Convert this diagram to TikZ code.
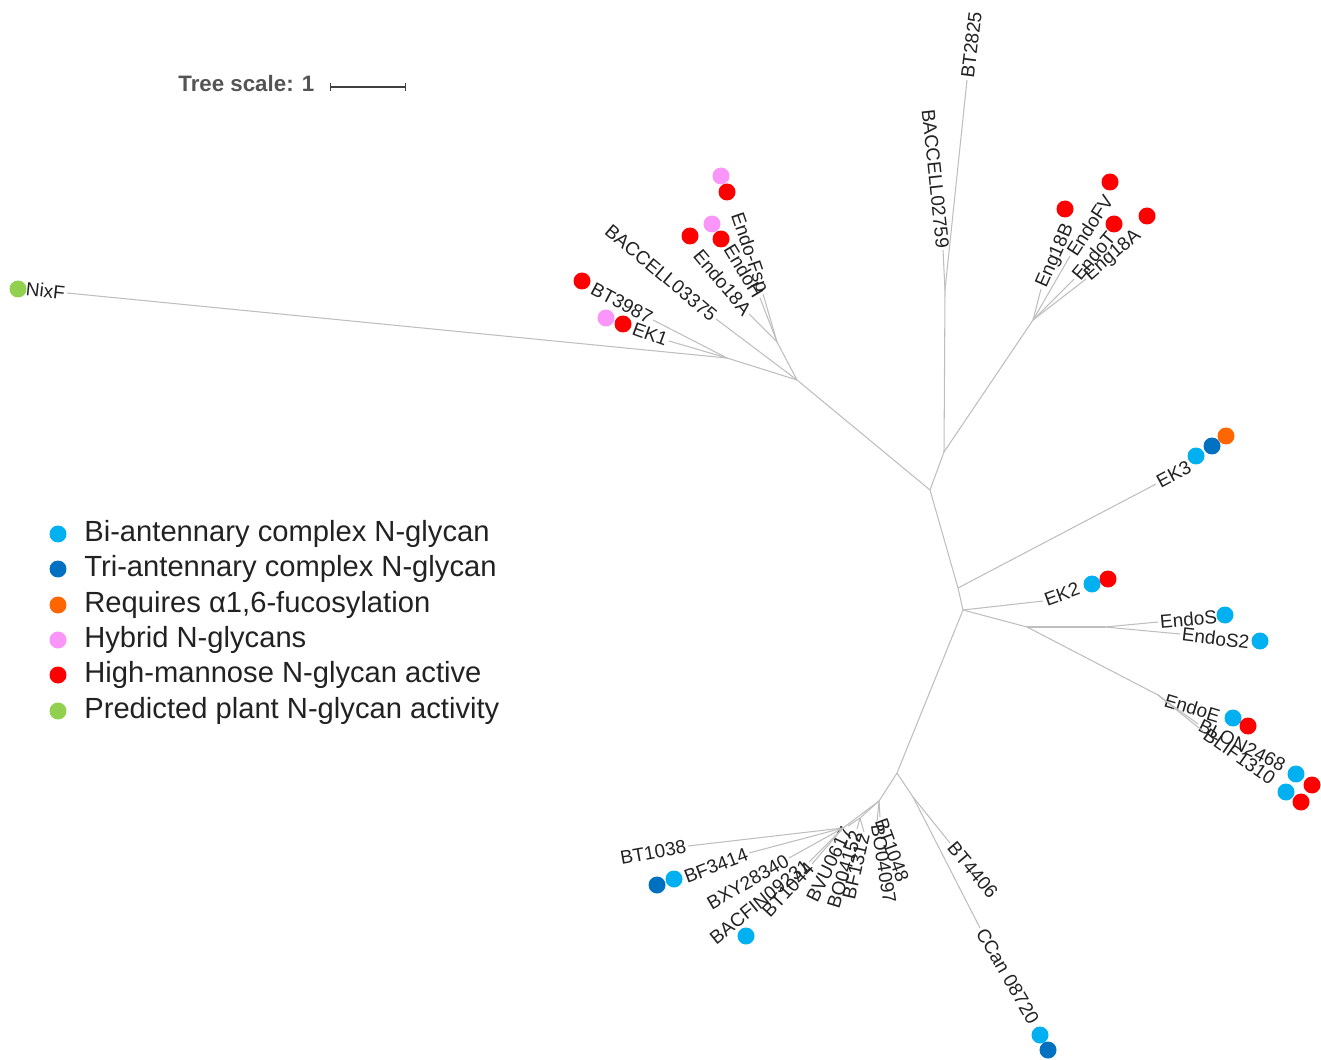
\documentclass[tikz,border=0pt]{standalone}
\usepackage{fontspec}
\setmainfont{Liberation Sans}
\usepackage{tikz}
\usetikzlibrary{arrows.meta}
\definecolor{bianten}{RGB}{0,176,240}
\definecolor{trianten}{RGB}{0,112,192}
\definecolor{fucose}{RGB}{255,102,0}
\definecolor{hybrid}{RGB}{250,150,250}
\definecolor{himan}{RGB}{255,0,0}
\definecolor{plant}{RGB}{146,208,80}
\definecolor{branchgray}{RGB}{190,190,190}
\definecolor{labelink}{RGB}{34,34,34}

\begin{document}
\begin{tikzpicture}[x=0.02cm, y=-0.02cm,
    branch/.style={branchgray, line width=0.6pt},
    leaf/.style={labelink, inner sep=1pt, font=\fontsize{10.8}{13}\selectfont},
    legtxt/.style={labelink, anchor=west, inner sep=0pt, font=\fontsize{16.6}{20}\selectfont},
    scaletxt/.style={black!67, anchor=west, inner sep=0pt, font=\fontsize{12.7}{15}\selectfont\bfseries}]
  \useasboundingbox (0,0) rectangle (1321,1060);

  % Internal nodes
  \coordinate (c0) at (930,490);
  \coordinate (nA) at (797,380);
  \coordinate (nN1) at (727,358);
  \coordinate (nB) at (777,342);
  \coordinate (nD) at (944,452);
  \coordinate (nE) at (945,290);
  \coordinate (nF) at (1033,320);
  \coordinate (nG) at (958,588);
  \coordinate (nH) at (963,610);
  \coordinate (nI) at (1027,627);
  \coordinate (nK) at (1105,627);
  \coordinate (nL) at (1158,695);
  \coordinate (nJ) at (897,773);
  \coordinate (nP) at (913,797);
  \coordinate (nQ) at (879,801);
  \coordinate (nR) at (860,818);
  \coordinate (nS) at (843,828);

  % Leaves (tip, label)
  \foreach \nm/\x/\y/\r/\a/\txt in {
      NixF/67/293/-6/east/NixF,
      BT3987/653/320/-28/east/BT3987,
      EK1/669/341/-20/east/EK1,
      BACCELL03375/716/319/-40/east/BACCELL03375,
      Endo18A/749/314/-50/east/Endo18A,
      EndoH/760/298/-59/east/EndoH,
      EndoFsp/763/294/-71/east/Endo-Fsp,
      BACCELL02759/943/250/-84/east/BACCELL02759,
      BT2825/967/80/83/west/BT2825,
      Eng18B/1041/289/66/west/Eng18B,
      EndoFV/1070/256/57/west/EndoFV,
      EndoT/1074/279/50/west/EndoT,
      Eng18A/1086/279/41/west/Eng18A,
      EK3/1156/484/28/west/EK3,
      EK2/1043/601/20/west/EK2,
      EndoS/1158/622/5/west/EndoS,
      EndoSb/1180/634/-7/west/EndoS2,
      EndoE/1163/699/-17/west/EndoE,
      BLON/1198/724/-26/west/BLON2468,
      BLIF/1204/732/-35/west/BLIF1310,
      BT1038/688/846/10/east/BT1038,
      BF3414/749/853/21/east/BF3414,
      BXY/789/858/30/east/BXY28340,
      BACFIN/809/862/39/east/BACFIN09231,
      BT1044/812/864/47/east/BT1044,
      BVU/848/826/64/east/BVU0617,
      BO04152/857/829/73/east/BO04152,
      BF1312/864/832/77/east/BF1312,
      BT1048/880/817/-70/west/BT1048,
      BO04097/877/822/-81/west/BO04097,
      BT4406/950/843/-50/west/BT4406,
      CCan/980/928/-60/west/CCan 08720}{
    \coordinate (t\nm) at (\x,\y);
    \node[leaf, anchor=\a, rotate=\r] (l\nm) at (t\nm) {\txt};
  }

  % Branches
  \foreach \p/\q in {c0/nA, c0/nD, c0/nG,
      nA/nN1, nA/nB, nA/tBACCELL03375,
      nN1/tNixF, nN1/tBT3987, nN1/tEK1,
      nB/tEndo18A, nB/tEndoH, nB/tEndoFsp,
      nD/nE, nD/nF, nE/tBACCELL02759, nE/tBT2825,
      nF/tEng18B, nF/tEndoFV, nF/tEndoT, nF/tEng18A,
      nG/tEK3, nG/nH, nH/tEK2, nH/nI, nH/nJ,
      nI/nK, nI/nL, nK/tEndoS, nK/tEndoSb,
      nL/tEndoE, nL/tBLON, nL/tBLIF,
      nJ/nP, nJ/nQ, nP/tBT4406, nP/tCCan,
      nQ/tBT1048, nQ/tBO04097, nQ/nR, nQ/nS,
      nR/tBVU, nR/tBO04152, nR/tBF1312,
      nS/tBT1038, nS/tBF3414, nS/tBXY, nS/tBACFIN, nS/tBT1044}
    \draw[branch] (\p) -- (\q);

  % Activity dots
  \foreach \col/\x/\y in {plant/18/289, himan/582/281,
      hybrid/606/318, himan/623/324, himan/690/236,
      hybrid/712/224, himan/721/239, hybrid/721/176, himan/727/192,
      himan/1065/209, himan/1110/182, himan/1114/224, himan/1147/216,
      bianten/1196/456, trianten/1212/446, fucose/1226/436,
      bianten/1092/584, himan/1108/579,
      bianten/1225/615, bianten/1260/641,
      bianten/1233/718, himan/1248/726,
      bianten/1296/774, himan/1312/785,
      bianten/1286/792, himan/1301/802,
      trianten/657/885, bianten/674/879, bianten/746/936,
      bianten/1040/1035, trianten/1048/1050}
    \fill[\col] (\x,\y) circle (0.17cm);

  % Tree scale
  \node[scaletxt] (treescale) at (178,84) {Tree scale: 1};
  \coordinate (sbl) at (330,87);
  \coordinate (sbr) at (406,87);
  \draw[black!75, line width=0.6pt, {Bar[width=4.5pt]}-{Bar[width=4.5pt]}] (sbl) -- (sbr);

  % Legend
  \foreach \col/\yy/\txt in {bianten/534/Bi-antennary complex N-glycan,
      trianten/569/Tri-antennary complex N-glycan,
      fucose/605/{Requires α1,6-fucosylation},
      hybrid/640/Hybrid N-glycans,
      himan/675/High-mannose N-glycan active,
      plant/711/Predicted plant N-glycan activity}{
    \fill[\col] (58,\yy) circle (0.17cm);
    \node[legtxt] (leg\yy) at (84,\yy) {\txt};
  }
\end{tikzpicture}
\end{document}
